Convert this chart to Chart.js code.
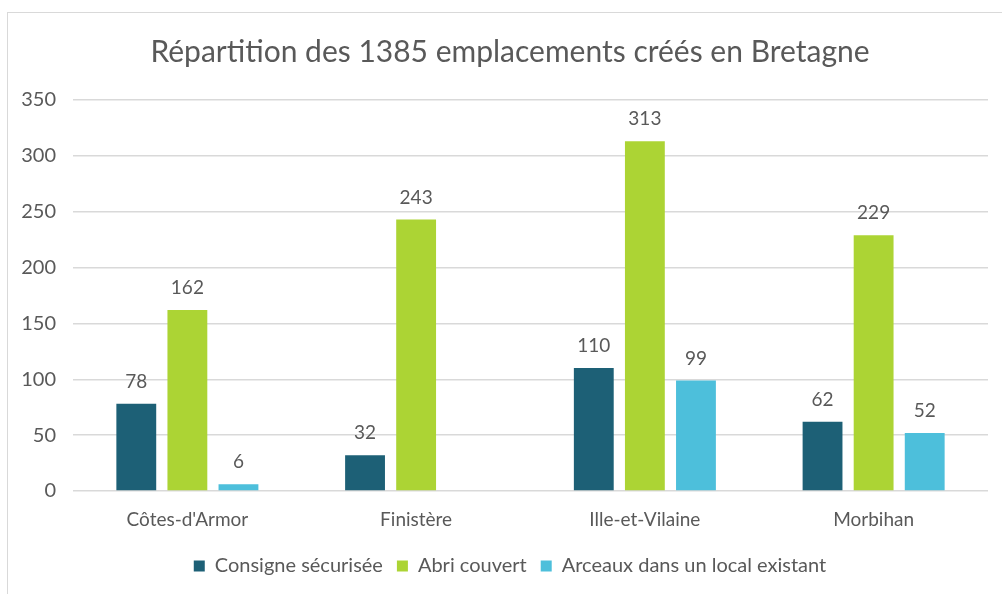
<!DOCTYPE html>
<html lang="fr">
<head>
<meta charset="utf-8">
<title>Répartition des emplacements</title>
<script src="https://cdn.jsdelivr.net/npm/chart.js@4/dist/chart.umd.min.js"></script>
<style>
    html, body { margin: 0; padding: 0; background: #fff; }
    .wrap { position: relative; width: 1002px; height: 594px; overflow: hidden; }
    .frame {
        position: absolute; left: 7px; top: 12px; width: 1100px; height: 700px;
        border: 1px solid #d9d9d9; box-sizing: border-box;
    }
    canvas { position: absolute; left: 0; top: 0; }
</style>
</head>
<body>
<div class="wrap">
    <div class="frame"></div>
    <canvas id="chart-bretagne" width="1002" height="594"></canvas>
</div>
<script>
// ─── Données ───
const departements = ['Côtes-d\'Armor', 'Finistère', 'Ille-et-Vilaine', 'Morbihan'];
const consigne = [78, 32, 110, 62];
const abri = [162, 243, 313, 229];
const arceaux = [6, null, 99, 52];
const seriesNames = ['Consigne sécurisée', 'Abri couvert', 'Arceaux dans un local existant'];
const yTicks = [0, 50, 100, 150, 200, 250, 300, 350];

const FONT = 'Lato, "Open Sans", sans-serif';
const GREY = '#595959';

// ─── Étiquettes de valeur au-dessus des barres ───
const valueLabels = {
    id: 'valueLabels',
    afterDatasetsDraw(chart) {
        const ctx = chart.ctx;
        ctx.save();
        ctx.font = '19px ' + FONT;
        ctx.fillStyle = GREY;
        ctx.textAlign = 'center';
        ctx.textBaseline = 'middle';
        chart.data.datasets.forEach((ds, i) => {
            const meta = chart.getDatasetMeta(i);
            meta.data.forEach((bar, j) => {
                const v = ds.data[j];
                if (v === null || v === undefined) return;
                ctx.fillText(String(v), bar.x, bar.y - 22);
            });
        });
        ctx.restore();
    }
};

// ─── Titre et légende centrés un peu plus à droite (comme l'original) ───
const shiftBlocks = {
    id: 'shiftBlocks',
    afterLayout(chart) {
        if (chart.titleBlock) chart.titleBlock.left += 32;
        if (chart.legend) chart.legend.left += 32;
    }
};

new Chart(document.getElementById('chart-bretagne'), {
    type: 'bar',
    data: {
        labels: departements,
        datasets: [
            { label: seriesNames[0], data: consigne, backgroundColor: '#1d6076' },
            { label: seriesNames[1], data: abri, backgroundColor: '#acd434' },
            { label: seriesNames[2], data: arceaux, backgroundColor: '#4dbfdb' }
        ]
    },
    options: {
        responsive: false,
        animation: false,
        layout: { padding: { top: 0, right: 14, bottom: 8, left: 0 } },
        datasets: {
            bar: { categoryPercentage: 0.67, barPercentage: 0.78, borderWidth: 0 }
        },
        plugins: {
            title: {
                display: true,
                text: 'Répartition des 1385 emplacements créés en Bretagne',
                color: GREY,
                font: { family: FONT, size: 30, weight: 'normal' },
                padding: { top: 34, bottom: 30 }
            },
            legend: {
                position: 'bottom',
                labels: {
                    color: GREY,
                    font: { family: FONT, size: 20 },
                    boxWidth: 11,
                    boxHeight: 11,
                    padding: 14
                }
            },
            tooltip: { enabled: false }
        },
        scales: {
            x: {
                grid: { display: false, drawTicks: false },
                border: { display: false },
                afterFit: (scale) => { scale.height = 51; },
                ticks: { color: GREY, font: { family: FONT, size: 19 }, padding: 17 }
            },
            y: {
                min: 0,
                max: 350,
                afterBuildTicks: (scale) => { scale.ticks = yTicks.map(v => ({ value: v })); },
                afterFit: (scale) => { scale.width = 73; },
                grid: { color: '#d9d9d9', lineWidth: 1.5, drawTicks: false },
                border: { display: false },
                ticks: { color: GREY, font: { family: FONT, size: 20 }, padding: 17 }
            }
        }
    },
    plugins: [valueLabels, shiftBlocks]
});
</script>
</body>
</html>
